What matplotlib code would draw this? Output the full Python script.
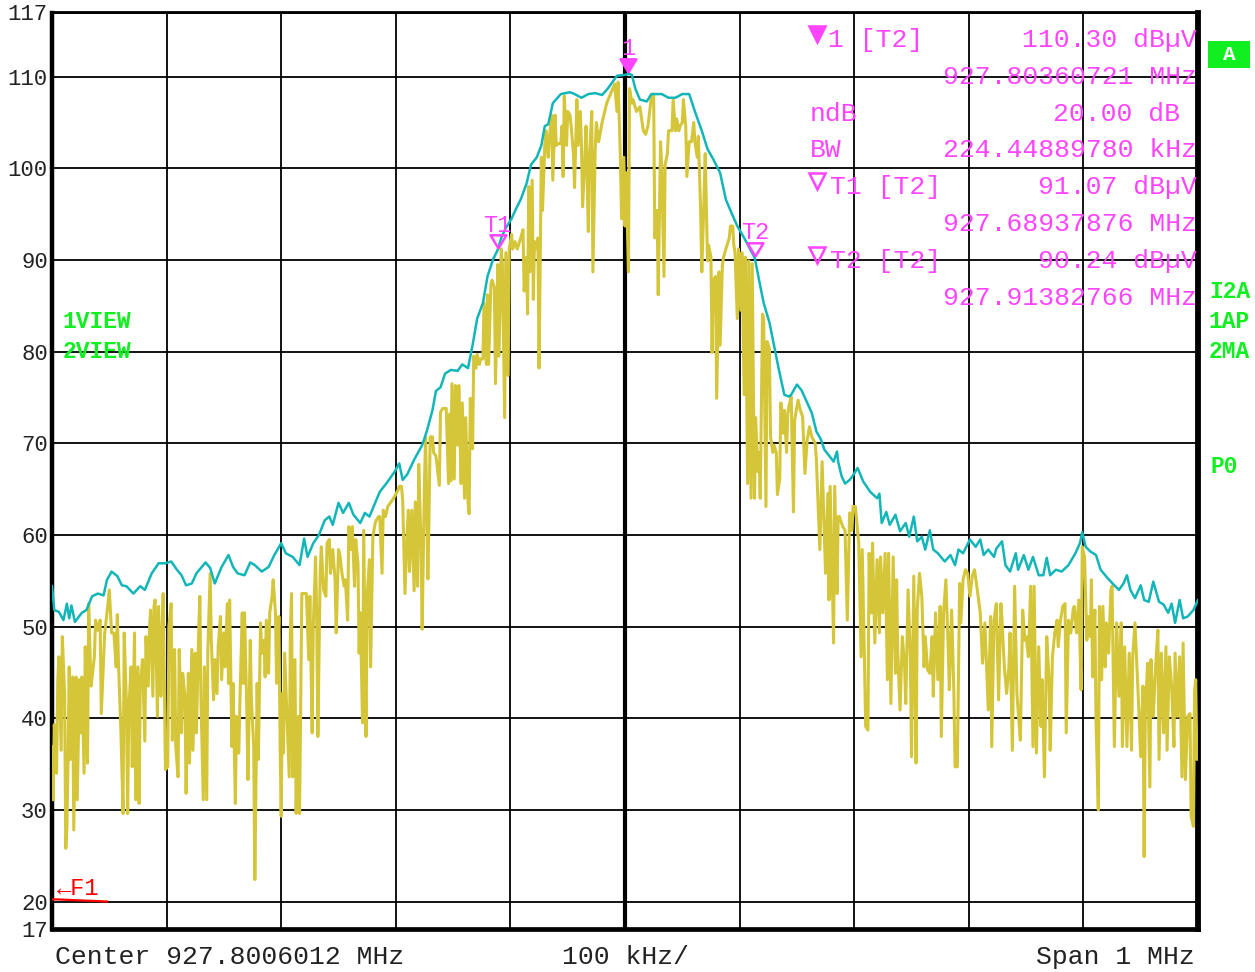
import numpy as np
import matplotlib
matplotlib.use("Agg")
import matplotlib.pyplot as plt

plt.rcParams['font.family'] = ['Liberation Mono', 'DejaVu Sans Mono']

# analyzer settings
center_mhz = 927.8006012
span_khz = 1000
y_ticks = [17, 20, 30, 40, 50, 60, 70, 80, 90, 100, 110, 117]
x_div = list(range(-500, 501, 100))

# trace 2 (max hold), offset from center in kHz / level in dBuV
maxhold_khz = [
    -500, -498, -494, -490, -487, -485, -483, -480, -474, -470,
    -465, -460, -455, -452, -448, -443, -439, -435, -429, -423,
    -419, -413, -407, -401, -396, -391, -387, -383, -378, -374,
    -370, -366, -362, -358, -352, -346, -342, -338, -332, -327,
    -323, -317, -311, -306, -300, -296, -290, -284, -280, -277,
    -272, -267, -262, -258, -255, -250, -246, -241, -237, -231,
    -227, -223, -218, -214, -209, -206, -201, -197, -194,
    -190, -184, -177, -173, -168, -165, -161, -157, -152, -146,
    -142, -137, -133, -129, -124, -120, -115, -111.2, -108, -104,
    -99, -95, -91, -86, -82, -77, -73, -70, -67, -63,
    -56, -48, -44, -38, -32, -26, -20, -15, -7, 0,
    3, 6, 9, 13, 19, 23, 32, 38, 44, 50,
    56, 61, 67, 72, 77, 83, 88, 92, 98, 104,
    113.2, 117, 121, 126, 130, 134, 139, 143,
    145, 150, 154, 158, 163, 167, 171, 174, 179, 182,
    185, 186, 189, 192, 196, 199, 203, 208, 214, 220,
    222, 224, 228, 231, 236, 240, 245, 248, 252, 255,
    259, 262, 266, 269, 273, 279, 284, 288, 291, 295,
    301, 306, 310, 313, 317, 322, 324, 329, 332, 336,
    341, 343, 348, 352, 356, 361, 365, 368, 371, 376,
    381, 387, 393, 397, 399, 402, 406, 411, 415, 421,
    427, 431, 435, 438, 441, 445, 450, 453, 457, 461,
    466, 470, 474, 477, 480, 484, 487, 491, 496, 500,
]
maxhold_dbuv = [
    54.4, 51.8, 51.6, 50.7, 52.5, 50.9, 52.3, 50.5, 51.5, 51.8,
    53.3, 53.6, 53.4, 55.1, 56.0, 55.5, 54.5, 54.4, 53.6, 54.4,
    54.0, 55.8, 56.9, 56.9, 57.1, 56.2, 55.6, 54.5, 54.7, 55.8,
    56.4, 57.0, 56.4, 54.7, 56.5, 57.8, 56.5, 55.8, 55.6, 57.0,
    56.7, 56.0, 56.5, 57.8, 59.1, 58.0, 57.6, 56.7, 59.6, 57.6,
    59.1, 60.0, 61.6, 62.0, 61.1, 63.5, 62.4, 63.5, 62.2, 61.3,
    62.4, 62.0, 63.5, 64.7, 65.5, 66.0, 66.9, 67.8, 66.0,
    66.6, 68.2, 69.8, 71.3, 73.6, 75.7, 76.1, 77.6, 78.0, 77.9,
    78.6, 78.2, 80.7, 83.6, 85.3, 88.2, 90.1, 91.07, 92.4, 93.5,
    94.5, 95.6, 96.6, 98.3, 100.4, 101.2, 102.5, 104.6, 104.8, 107.1,
    108.1, 108.3, 108.1, 107.7, 108.1, 108.2, 108.0, 108.7, 110.1, 110.2,
    110.3, 110.2, 108.7, 107.5, 107.3, 108.1, 108.1, 107.7, 107.7, 108.1,
    108.1, 106.2, 104.1, 102.1, 101.0, 99.5, 96.6, 95.4, 93.7, 92.4,
    90.24, 87.8, 85.3, 83.2, 80.7, 78.2, 75.3, 75.1,
    75.3, 76.4, 75.8, 74.7, 73.3, 71.3, 70.4, 69.3, 68.5, 68.0,
    69.1, 68.0, 66.4, 65.6, 66.0, 66.5, 67.3, 65.8, 64.7, 64.0,
    64.5, 61.3, 62.5, 61.1, 62.2, 60.4, 61.3, 59.8, 62.0, 59.3,
    59.8, 58.4, 60.5, 58.4, 58.0, 57.1, 57.8, 56.7, 58.4, 58.0,
    59.5, 58.7, 59.5, 57.8, 58.4, 57.6, 58.5, 59.3, 56.7, 56.0,
    58.0, 56.2, 57.8, 56.2, 57.6, 55.6, 55.6, 57.5, 55.6, 56.2,
    56.0, 56.7, 58.0, 59.1, 60.3, 58.7, 58.2, 57.8, 56.2, 55.3,
    54.5, 54.0, 54.7, 55.6, 54.0, 53.1, 54.5, 52.9, 52.7, 54.9,
    52.7, 52.4, 51.5, 52.5, 50.4, 52.9, 50.9, 51.1, 51.8, 52.9,
]

# trace 1 (auto peak, clear/write)
live_khz = [
    -500, -499, -498, -496, -495, -494, -492, -491, -489, -488,
    -487, -486, -485, -484, -482, -481, -479, -478, -476, -475,
    -474, -472, -471, -470, -469, -468, -466, -465, -463, -462,
    -460, -458, -457, -454, -452, -450, -448, -446, -444, -443,
    -442, -440, -438, -437, -435, -434, -433, -431, -430, -428,
    -427, -425, -424, -423, -421, -419, -418, -416, -415, -414,
    -412, -411, -410, -408, -407, -405, -404, -403, -401, -399,
    -398, -396, -395, -393, -392, -390, -389, -387, -386, -384,
    -383, -381, -380, -378, -377, -375, -374, -372, -371, -370,
    -368, -367, -365, -364, -362, -361, -359, -358, -356, -355,
    -353, -352, -350, -349, -347, -346, -345, -343, -342, -340,
    -339, -337, -336, -334, -333, -332, -330, -329, -327, -326,
    -324, -323, -321, -320, -318, -317, -315, -314, -313, -311,
    -310, -308, -307, -305, -304, -302, -301, -300, -299, -298,
    -297, -295, -293, -292, -291, -290, -288, -287, -285, -284,
    -282, -280, -278, -276, -275, -273, -272, -270, -269, -268,
    -266, -265, -263, -261, -260, -258, -257, -255, -253, -252,
    -250, -249, -247, -245, -244, -242, -241, -239, -238, -236,
    -235, -233, -232, -231, -229, -228, -226, -225, -223, -222,
    -220, -218, -217, -215, -214, -212, -211, -209, -207, -203,
    -201, -198, -197, -195, -194, -192,
    -190, -189, -188, -186, -184, -183, -181, -180, -178, -177,
    -175, -174, -172, -171, -170, -168, -167, -165, -162, -161,
    -159, -156, -154, -153, -152, -151, -149, -148, -146, -145,
    -143, -142, -140, -139, -137, -136, -135, -133, -132, -130,
    -129, -127, -126, -124, -123, -121, -120, -119, -117, -116,
    -114, -113, -111, -110, -108, -107, -105, -104, -102, -101,
    -99, -98, -96, -94, -91, -89, -88, -86, -85, -84,
    -83, -81, -80, -79, -78, -76, -75, -73, -72, -70,
    -69, -67, -66, -64, -63, -61, -60, -58, -56, -55,
    -54, -53, -51, -50, -48, -47, -45, -44, -42, -41,
    -39, -38, -37, -35, -34, -32, -31, -29, -28, -26,
    -25, -23, -20, -16, -12, -9, -7, -6, -4, -3,
    -1, 0, 1, 3, 4, 6, 7, 10, 13, 16,
    18, 20, 22, 23, 25, 26, 28, 29, 31, 32,
    34, 35, 37, 38, 39, 41, 42, 44, 45, 47,
    48, 50, 51, 53, 54, 56, 57, 58, 60, 61,
    63, 64, 66, 67, 69, 70, 72, 73, 75, 76,
    77, 79, 80, 82, 83, 85, 86, 88, 89, 91,
    92, 94, 95, 96, 98, 99, 101, 102, 104, 105,
    107, 108, 110, 111, 113, 114, 116, 117, 118, 120,
    121, 123, 124, 126, 127, 129, 130, 132, 133, 135,
    136, 138, 139, 141, 142, 143,
    145, 147, 148, 151, 153, 155, 157, 159, 161, 163,
    166, 167, 170, 172, 173, 175, 177, 178, 179, 181,
    182, 183, 185, 186, 187, 190, 192, 194, 196, 198,
    199, 201, 204, 206, 207, 209, 210, 212, 213, 215,
    216, 218, 220, 222, 223, 225, 227, 229, 230, 232,
    234, 236, 237, 238, 240, 242, 244, 245, 247, 249,
    250, 252, 254, 255, 257, 259, 261, 262, 264, 266,
    268, 269, 271, 273, 275, 276, 278, 280, 282, 283,
    285, 287, 288, 290, 292, 293, 295, 297, 299, 301,
    303, 305, 307, 310, 312, 314, 316, 317, 319, 320,
    322, 324, 326, 328, 329, 331, 333, 335, 336, 338,
    340, 342, 343, 345, 347, 349, 350, 352, 354, 356,
    357, 359, 361, 363, 364, 366, 368, 370, 371, 373,
    375, 377, 378, 380, 382, 384, 385, 387, 389, 391,
    392, 394, 396, 398, 399, 401, 403, 404, 406, 407,
    408, 410, 411, 413, 414, 416, 417, 419, 420, 422,
    424, 425, 427, 429, 431, 433, 434, 436, 438, 440,
    442, 443, 445, 447, 448, 450, 452, 453, 454, 456,
    458, 459, 461, 463, 465, 466, 468, 470, 472, 473,
    475, 477, 479, 480, 482, 484, 486, 487, 489, 491,
    493, 494, 496, 497, 498, 499, 500,
]
live_dbuv = [
    36.9, 31.1, 39.3, 34.0, 44.0, 46.7, 36.5, 48.9, 42.7, 25.8,
    28.2, 35.5, 45.6, 35.5, 44.5, 27.8, 44.5, 31.1, 44.2, 38.4,
    44.5, 34.0, 47.8, 42.7, 35.1, 52.5, 43.5, 44.5, 46.7, 50.7,
    49.6, 50.7, 40.5, 49.3, 51.5, 54.0, 49.3, 49.3, 45.6, 51.3,
    46.0, 39.1, 29.6, 49.3, 41.3, 29.6, 40.9, 45.6, 34.7, 49.3,
    31.1, 45.6, 30.7, 43.5, 46.4, 37.5, 48.9, 43.5, 49.6, 51.8,
    42.4, 52.2, 52.9, 40.2, 52.2, 42.4, 49.3, 53.6, 34.4, 34.7,
    50.0, 52.5, 37.6, 47.5, 36.9, 33.6, 47.5, 38.4, 44.9, 42.4,
    31.8, 44.9, 35.1, 47.5, 36.5, 47.1, 38.4, 49.3, 53.3, 42.0,
    31.1, 45.6, 31.1, 47.5, 55.8, 48.5, 42.0, 46.4, 42.7, 47.8,
    51.1, 44.2, 49.3, 45.6, 52.5, 43.8, 52.9, 36.9, 43.8, 30.7,
    40.2, 36.2, 42.0, 51.5, 43.8, 51.5, 40.9, 33.3, 48.5, 42.0,
    36.9, 22.4, 43.8, 35.5, 50.4, 47.1, 48.5, 44.5, 50.7, 44.9,
    51.5, 53.3, 55.1, 51.5, 43.8, 51.1, 37.6, 29.3, 42.7, 36.2,
    47.1, 40.5, 33.6, 49.3, 53.6, 33.6, 46.4, 29.6, 40.2, 29.6,
    53.6, 53.6, 53.6, 46.4, 53.3, 38.4, 50.0, 57.6, 51.1, 38.0,
    55.8, 58.7, 54.0, 53.3, 59.1, 59.5, 55.8, 58.4, 55.1, 49.3,
    58.4, 58.0, 55.8, 54.4, 55.1, 50.7, 60.9, 58.4, 60.9, 54.4,
    59.5, 56.9, 47.1, 51.5, 39.5, 60.5, 38.0, 53.3, 57.3, 45.6,
    59.8, 61.3, 61.6, 62.0, 62.0, 55.8, 62.7, 62.0, 63.1, 63.8,
    64.2, 64.9, 65.3, 65.3, 63.8, 53.6,
    60.6, 62.7, 56.0, 62.7, 53.9, 63.6, 54.4, 67.7, 59.0, 49.7,
    65.6, 70.7, 55.2, 62.3, 70.7, 70.7, 69.0, 68.6, 65.4, 73.4,
    73.8, 73.8, 65.6, 73.2, 65.9, 76.5, 66.1, 76.3, 69.8, 76.3,
    65.6, 74.4, 64.0, 72.8, 63.6, 62.3, 74.9, 69.4, 79.5, 78.2,
    79.7, 78.6, 79.2, 79.2, 85.3, 78.6, 86.2, 78.6, 87.4, 87.8,
    87.0, 76.5, 89.5, 79.5, 91.2, 89.5, 72.8, 90.8, 77.4, 91.2,
    92.8, 91.2, 92.0, 91.2, 92.4, 93.3, 86.6, 90.3, 84.1, 98.0,
    88.7, 98.7, 85.7, 92.0, 91.2, 92.4, 78.2, 101.2, 95.4, 102.5,
    104.1, 101.2, 103.3, 105.8, 98.7, 105.8, 102.5, 102.7, 102.7, 104.6,
    99.1, 107.9, 102.5, 106.2, 105.8, 104.6, 101.6, 97.9, 107.5, 102.5,
    106.2, 102.5, 95.8, 101.2, 104.6, 93.1, 101.2, 106.2, 88.7, 102.1,
    105.0, 102.9, 105.0, 107.1, 108.3, 109.2, 106.2, 109.4, 101.2, 94.5,
    101.2, 93.7, 99.5, 88.7, 108.7, 107.1, 107.5, 106.2, 106.7, 104.1,
    103.7, 104.6, 106.7, 107.9, 108.1, 92.4, 95.4, 86.2, 102.9, 100.4,
    88.2, 100.4, 101.6, 104.1, 104.1, 104.1, 107.5, 104.1, 105.4, 104.1,
    104.6, 105.0, 107.5, 104.6, 99.1, 102.9, 102.9, 102.9, 105.0, 102.9,
    101.2, 103.5, 95.4, 88.7, 97.0, 101.6, 89.9, 91.6, 90.3, 79.9,
    87.8, 88.2, 74.9, 88.7, 80.7, 89.5, 90.3, 91.2, 91.6, 92.4,
    93.7, 93.7, 91.6, 90.8, 83.6, 91.2, 84.5, 90.8, 75.3, 90.3,
    65.6, 89.9, 64.0, 89.6, 64.0, 72.8, 66.9, 69.0, 64.0, 84.1,
    83.6, 63.1, 81.1, 80.3, 70.7, 69.0, 69.8, 69.0, 64.4, 66.1,
    74.4, 71.1, 73.6, 69.0, 73.2, 74.0,
    75.1, 62.5, 72.5, 74.7, 73.6, 72.9, 66.7, 70.4, 71.8, 70.7,
    70.0, 68.2, 58.4, 68.0, 63.8, 55.8, 64.5, 52.9, 65.3, 54.4,
    48.2, 65.3, 53.6, 62.0, 62.0, 60.9, 60.5, 50.7, 62.4, 60.5,
    63.1, 63.1, 59.1, 46.7, 58.4, 46.0, 39.1, 38.7, 58.0, 51.5,
    59.1, 48.2, 57.3, 49.3, 57.6, 51.5, 58.0, 44.2, 58.0, 41.6,
    57.6, 44.9, 55.1, 47.1, 40.9, 48.9, 45.6, 41.6, 54.0, 46.7,
    35.8, 55.5, 35.1, 51.8, 55.8, 53.3, 45.6, 48.9, 45.3, 44.9,
    48.9, 42.4, 51.5, 44.2, 52.2, 38.0, 51.5, 55.1, 47.8, 43.1,
    51.8, 42.7, 34.7, 34.7, 54.7, 50.4, 55.1, 56.2, 55.8, 53.3,
    55.5, 56.2, 54.4, 51.5, 46.0, 50.4, 44.2, 40.9, 51.1, 36.9,
    50.7, 52.5, 42.0, 52.5, 50.7, 45.6, 42.7, 45.6, 49.3, 36.5,
    54.4, 42.7, 40.9, 37.6, 51.8, 48.5, 48.9, 46.7, 54.4, 36.9,
    54.4, 36.2, 47.8, 39.1, 44.2, 33.6, 48.9, 44.2, 36.5, 46.7,
    49.3, 50.7, 47.8, 50.7, 52.2, 52.5, 38.4, 50.7, 49.3, 51.8,
    52.2, 49.3, 52.9, 43.1, 58.7, 57.6, 48.5, 51.1, 48.9, 55.1,
    44.5, 51.8, 39.8, 30.0, 52.2, 44.2, 52.2, 45.6, 50.4, 47.1,
    54.0, 54.4, 36.9, 50.4, 42.4, 50.4, 36.9, 47.8, 36.9, 47.1,
    36.5, 46.7, 50.4, 44.9, 42.0, 35.8, 43.5, 24.9, 40.5, 46.0,
    32.5, 46.4, 40.2, 45.6, 49.6, 35.5, 47.1, 38.4, 47.8, 36.5,
    46.7, 43.5, 36.9, 47.1, 40.2, 46.7, 33.6, 48.2, 33.3, 40.2,
    40.5, 29.3, 28.2, 43.1, 44.2, 35.5, 37.6,
]

# markers: (name, freq MHz, level dBuV)
mk_names = ["1", "T1", "T2"]
mk_freq_mhz = [927.80360721, 927.68937876, 927.91382766]
mk_level = [110.30, 91.07, 90.24]
ndb_value = 20.00
bw_khz = 224.44889780
display_line_dbuv = 20.0

MAG = "#ff44ff"
GRN = "#10f020"
CYAN = "#12b6b8"
YEL = "#d5c639"

W, H = 1255, 972
fig = plt.figure(figsize=(W / 100, H / 100), dpi=100)
ax = fig.add_axes([52 / W, 1 - 929 / H, 1146 / W, 916.5 / H])
ax.set_xlim(-span_khz / 2, span_khz / 2)
ax.set_ylim(17, 117)

ax.set_xticks(x_div)
ax.set_xticklabels([])
ax.set_yticks(y_ticks)
ax.set_yticklabels([str(v) for v in y_ticks])
ax.tick_params(axis='both', length=0)
ax.tick_params(axis='y', pad=3, labelsize=16, labelcolor='#222222')
ax.grid(True, color='black', lw=1.3, zorder=1)
ax.set_axisbelow(True)
ax.axvline(0, color='black', lw=3.0, zorder=1)

for side, lw in [('left', 3.2), ('bottom', 3.4), ('right', 4.2), ('top', 2.0)]:
    ax.spines[side].set_linewidth(lw)
    ax.spines[side].set_color('black')

ax.plot(live_khz, live_dbuv, color=YEL, lw=2.2, zorder=3)
ax.plot(maxhold_khz, maxhold_dbuv, color=CYAN, lw=1.8, zorder=4)

# display line F1
ax.plot([-500, -452], [display_line_dbuv + 0.25, display_line_dbuv], color='red', lw=1.6, zorder=5)
ax.text(-496, display_line_dbuv + 1.4, "←F1", color='red', fontsize=17, va='center', ha='left', zorder=6)

# marker triangles with the tip at the marker level
tri = [(0, 0), (-0.6, 1), (0.6, 1), (0, 0)]
mk_khz = [(f - center_mhz) * 1000 for f in mk_freq_mhz]
for i, (name, fk, lv) in enumerate(zip(mk_names, mk_khz, mk_level)):
    face = MAG if i == 0 else 'none'
    ax.plot([fk], [lv + 0.2], marker=tri, ms=19, mfc=face, mec=MAG, mew=1.8, ls='none', zorder=7)
    ax.annotate(name, (fk, lv), xytext=(0, 18), textcoords='offset points',
                color=MAG, fontsize=17, ha='center', va='center', zorder=7)

# marker readout block (figure pixel coords)
def fx(px):
    return px / W

def fy(py):
    return 1 - py / H

rows = [
    ("1 [T2]", f"{mk_level[0]:.2f} dBµV", 828),
    ("", f"{mk_freq_mhz[0]:.8f} MHz", None),
    ("ndB", f"{ndb_value:.2f} dB", 810),
    ("BW", f"{bw_khz:.8f} kHz", 810),
    ("T1 [T2]", f"{mk_level[1]:.2f} dBµV", 830),
    ("", f"{mk_freq_mhz[1]:.8f} MHz", None),
    ("T2 [T2]", f"{mk_level[2]:.2f} dBµV", 830),
    ("", f"{mk_freq_mhz[2]:.8f} MHz", None),
]
for k, (lab, val, lx) in enumerate(rows):
    yc = 40 + k * 36.8
    if lab:
        fig.text(fx(lx), fy(yc), lab, color=MAG, fontsize=19, ha='left', va='center', zorder=8)
    rx = 1180 if lab == "ndB" else 1197
    fig.text(fx(rx), fy(yc), val, color=MAG, fontsize=19, ha='right', va='center', zorder=8)

# readout triangles
for k, filled in [(0, True), (4, False), (6, False)]:
    yc = 34 + k * 36.8
    fig.lines.append(plt.Line2D([fx(817)], [fy(yc)], transform=fig.transFigure, marker='v', ms=12,
                                mfc=MAG if filled else 'none', mec=MAG, mew=1.8, ls='none'))

# status labels
for txt, px, py in [("1VIEW", 63, 321), ("2VIEW", 63, 351), ("I2A", 1209, 291),
                    ("1AP", 1209, 321), ("2MA", 1209, 351), ("P0", 1211, 466)]:
    fig.text(fx(px), fy(py), txt, color=GRN, fontsize=16.5, fontweight='bold', ha='left', va='center')
fig.patches.append(plt.Rectangle((fx(1208), fy(68)), 42 / W, 27 / H, transform=fig.transFigure,
                                 facecolor=GRN, edgecolor='none'))
fig.text(fx(1229), fy(54.5), "A", color='white', fontsize=15, fontweight='bold', ha='center', va='center')

# bottom annotation line
fig.text(fx(55), fy(957), f"Center {center_mhz:.7f} MHz", color='#222222', fontsize=19, ha='left', va='center')
fig.text(fx(626), fy(957), f"{span_khz // 10} kHz/", color='#222222', fontsize=19, ha='center', va='center')
fig.text(fx(1195), fy(957), f"Span {span_khz // 1000} MHz", color='#222222', fontsize=19, ha='right', va='center')

fig.savefig("out.png", dpi=100, facecolor='white')
